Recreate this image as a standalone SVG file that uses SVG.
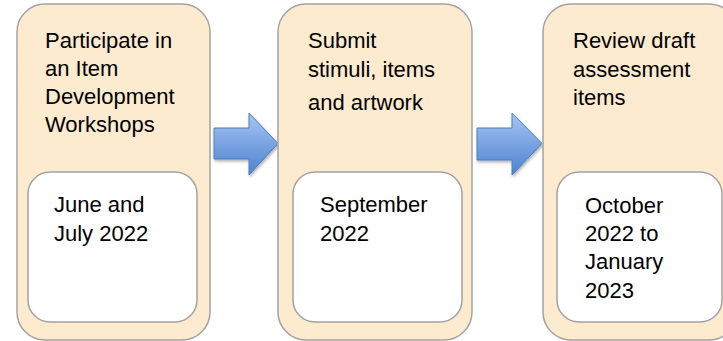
<svg xmlns="http://www.w3.org/2000/svg" width="723" height="341" viewBox="0 0 723 341">
<style>
.outer{fill:#fdebd0;stroke:#a3a3a3;stroke-width:1.5}
.inner{fill:#ffffff;stroke:#a3a3a3;stroke-width:1.5}
.t{font-family:"Liberation Sans",Arial,sans-serif;font-size:22px;fill:#000}
.arrow{fill:url(#ag);stroke:#4a7ebb;stroke-width:1;filter:url(#sh)}
</style>
<defs>
<linearGradient id="ag" x1="0" y1="0" x2="0" y2="1">
<stop offset="0" stop-color="#a7c5f4"/>
<stop offset="1" stop-color="#4d82d0"/>
</linearGradient>
<filter id="sh" x="-20%" y="-20%" width="140%" height="140%">
<feDropShadow dx="1" dy="2" stdDeviation="1.5" flood-color="#000" flood-opacity="0.3"/>
</filter>
</defs>
<g id="connectors">
<path class="arrow" d="M214,128 H249 V113 L278,143.5 L249,175 V159 H214 Z"/>
<path class="arrow" d="M477,128 H512 V113 L542,143.5 L512,175 V160 H477 Z"/>
</g>
<g id="node1">
<rect class="outer" x="17" y="4" width="193" height="336" rx="28" ry="28"/>
<text class="t" x="45" y="48">Participate in</text>
<text class="t" x="45" y="76">an Item</text>
<text class="t" x="45" y="104">Development</text>
<text class="t" x="45" y="132">Workshops</text>
<rect class="inner" x="28" y="172" width="169" height="150" rx="22" ry="22"/>
<text class="t" x="54" y="212">June and</text>
<text class="t" x="54" y="241">July 2022</text>
</g>
<g id="node2">
<rect class="outer" x="278" y="4" width="194" height="336" rx="28" ry="28"/>
<text class="t" x="308" y="48">Submit</text>
<text class="t" x="308" y="77">stimuli, items</text>
<text class="t" x="308" y="110">and artwork</text>
<rect class="inner" x="293" y="172" width="169" height="150" rx="22" ry="22"/>
<text class="t" x="320" y="212">September</text>
<text class="t" x="320" y="241">2022</text>
</g>
<g id="node3">
<rect class="outer" x="543" y="4" width="194" height="336" rx="28" ry="28"/>
<text class="t" x="573" y="48">Review draft</text>
<text class="t" x="573" y="77">assessment</text>
<text class="t" x="573" y="105">items</text>
<rect class="inner" x="557" y="172" width="165" height="150" rx="22" ry="22"/>
<text class="t" x="585" y="213">October</text>
<text class="t" x="585" y="241">2022 to</text>
<text class="t" x="585" y="269">January</text>
<text class="t" x="585" y="298">2023</text>
</g>
</svg>
